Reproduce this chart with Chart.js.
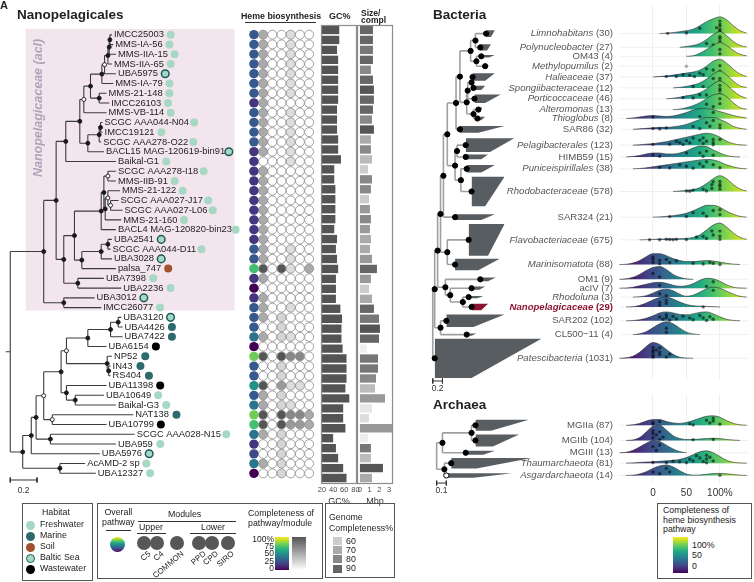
<!DOCTYPE html>
<html>
<head>
<meta charset="utf-8">
<title>Heme biosynthesis in Nanopelagicales</title>
<script src="https://cdn.jsdelivr.net/npm/chart.js@4.4.1/dist/chart.umd.min.js"></script>
<style>
  body { margin:0; width:754px; height:582px; position:relative; overflow:hidden; background:#fff;
         font-family:"Liberation Sans", Arial, Helvetica, sans-serif; color:#222; }
  canvas { position:absolute; }
  .t { position:absolute; white-space:nowrap; line-height:1; }
  .box { position:absolute; border:1px solid #555; box-sizing:border-box; }
  .dot { position:absolute; border-radius:50%; box-sizing:border-box; }
  .ln { position:absolute; height:0; border-top:1px solid #333; }
  .rl { position:absolute; width:0; height:0; }
  .rl span { position:absolute; right:0; top:0; transform-origin:100% 0; transform:rotate(-40deg);
             font-size:8px; white-space:nowrap; line-height:1; }
  .vir { background:linear-gradient(to bottom,#fde725,#bddf26,#7ad151,#44bf70,#22a884,#21918c,#2a788e,#355f8d,#414487,#482475,#440154); }
</style>
</head>
<body>
<canvas id="nanoTree" width="245" height="500" style="left:0;top:0"></canvas>
<canvas id="heme" width="75" height="500" style="left:244px;top:0"></canvas>
<canvas id="gc" width="50" height="507" style="left:314px;top:0"></canvas>
<canvas id="size" width="50" height="507" style="left:350px;top:0"></canvas>
<canvas id="bac" width="334" height="392" style="left:420px;top:0"></canvas>
<canvas id="arc" width="334" height="110" style="left:420px;top:390px"></canvas>

<div class="t" style="left:0;top:0;font-weight:bold;font-size:11px">A</div>
<div class="t" style="left:17px;top:8px;font-weight:bold;font-size:13.5px">Nanopelagicales</div>
<div class="t" style="left:241px;top:12px;font-weight:bold;font-size:8.8px">Heme biosynthesis</div>
<div class="ln" style="left:245px;top:22px;width:71px"></div>
<div class="t" style="left:329px;top:12px;font-weight:bold;font-size:9px">GC%</div>
<div class="t" style="left:361px;top:10px;font-weight:bold;font-size:8.5px;line-height:7px">Size/<br>compl</div>
<div class="t" style="left:433px;top:8px;font-weight:bold;font-size:13.5px">Bacteria</div>
<div class="t" style="left:433px;top:398px;font-weight:bold;font-size:13.5px">Archaea</div>

<!-- habitat legend -->
<div class="box" style="left:22px;top:503px;width:71px;height:78px"></div>
<div class="t" style="left:42px;top:508px;font-size:8.8px">Habitat</div>

<!-- pathway / module legend -->
<div class="box" style="left:97px;top:503px;width:226px;height:76px"></div>
<div class="t" style="left:102px;top:507px;font-size:8.8px;line-height:10px;text-align:center">Overall<br>pathway</div>
<div class="ln" style="left:106px;top:530px;width:25px"></div>
<div class="dot vir" style="left:110px;top:537px;width:15px;height:15px"></div>
<div class="t" style="left:168px;top:510px;font-size:8.8px">Modules</div>
<div class="ln" style="left:138px;top:521px;width:98px"></div>
<div class="t" style="left:139px;top:523px;font-size:8.8px">Upper</div>
<div class="ln" style="left:137px;top:533px;width:29px"></div>
<div class="t" style="left:201px;top:523px;font-size:8.8px">Lower</div>
<div class="ln" style="left:190px;top:533px;width:46px"></div>
<div class="t" style="left:248px;top:508px;font-size:8.8px;line-height:10px">Completeness of<br>pathway/module</div>
<div class="vir" style="position:absolute;left:275px;top:537px;width:14px;height:33px"></div>
<div style="position:absolute;left:292px;top:537px;width:14px;height:33px;background:linear-gradient(to bottom,#555,#fff)"></div>
<div class="t" style="left:250px;top:536px;width:24px;text-align:right;font-size:8.5px;line-height:7.2px">100%<br>75<br>50<br>25<br>0</div>

<!-- genome completeness legend -->
<div class="box" style="left:325px;top:503px;width:70px;height:75px"></div>
<div class="t" style="left:329px;top:512px;font-size:8.8px;line-height:10.5px">Genome<br>Completeness%</div>

<!-- ridge colour legend -->
<div class="box" style="left:657px;top:503px;width:95px;height:76px"></div>
<div class="t" style="left:663px;top:506px;font-size:8.8px;line-height:9.5px">Completeness of<br>heme biosynthesis<br>pathway</div>
<div class="vir" style="position:absolute;left:673px;top:537px;width:15px;height:36px"></div>
<div class="t" style="left:692px;top:541px;font-size:8.8px">100%</div>
<div class="t" style="left:692px;top:551px;font-size:8.8px">50</div>
<div class="t" style="left:692px;top:562px;font-size:8.8px">0</div>

<script>
// ---------------- Nanopelagicales genomes (tree tip order, top to bottom) ----------------
const nanoTips = ['IMCC25003','MMS-IA-56','MMS-IIA-15','MMS-IIA-65','UBA5975','MMS-IA-79','MMS-21-148','IMCC26103',
  'MMS-VB-114','SCGC AAA044-N04','IMCC19121','SCGC AAA278-O22','BACL15 MAG-120619-bin91','Baikal-G1','SCGC AAA278-I18',
  'MMS-IIB-91','MMS-21-122','SCGC AAA027-J17','SCGC AAA027-L06','MMS-21-160','BACL4 MAG-120820-bin23','UBA2541',
  'SCGC AAA044-D11','UBA3028','palsa_747','UBA7398','UBA2236','UBA3012','IMCC26077','UBA3120','UBA4426','UBA7422',
  'UBA6154','NP52','IN43','RS404','UBA11398','UBA10649','Baikal-G3','NAT138','UBA10799','SCGC AAA028-N15','UBA959',
  'UBA5976','AcAMD-2 sp','UBA12327'];
// root-to-tip distance (substitutions/site)
const nanoTipDepth = [0.76,0.77,0.79,0.76,0.79,0.77,0.72,0.74,0.72,0.69, 0.69,0.68,0.70,0.79,0.79,0.79,0.82,0.81,0.84,0.83,
  0.79,0.76,0.75,0.76,0.79,0.70,0.83,0.63,0.68,0.83, 0.84,0.84,0.72,0.76,0.75,0.75,0.72,0.70,0.79,0.92, 0.72,0.93,0.79,0.67,0.56,0.64];
// F freshwater, M marine, S soil, B Baltic Sea, W wastewater
const nanoHabitat = ['F','F','F','F','B','F','F','F','F','F', 'F','F','B','F','F','F','F','F','F','F',
  'F','B','F','B','S','F','F','B','F','B', 'M','M','W','M','M','M','W','F','F','M', 'W','F','F','B','F','F'];
// internal nodes: [id, depth, child, child, support (1 = supported, 0 = weak, null = root)]
const nanoNodes = [
  ['a',0.745,0,1,1],['b',0.74,'a',2,1],['c',0.73,'b',3,1],['d',0.705,'c',4,0],['e',0.685,'d',5,1],['f',0.665,6,7,1],
  ['g',0.60,'e','f',1],['h',0.55,'g',8,0],['i',0.675,9,10,1],['j',0.665,'i',11,1],['k',0.58,'j',12,1],['l',0.52,'h','k',1],
  ['m',0.415,'l',13,1],['n',0.73,14,15,0],['o',0.75,17,18,0],['p',0.73,16,'o',0],['q',0.71,'p',19,1],['r',0.70,'n','q',1],
  ['s',0.68,'r',20,1],['t',0.73,21,22,1],['u',0.68,'t',23,1],['v',0.535,'u',24,1],['w',0.48,'s','v',1],['x',0.505,25,26,1],
  ['y',0.40,'w','x',1],['z',0.343,'m','y',1],['aa',0.40,27,28,1],['ab',0.25,'z','aa',1],
  ['ba',0.807,29,30,1],['bb',0.75,'ba',31,1],['bc',0.58,'bb',32,1],['bd',0.736,34,35,1],['be',0.725,33,'bd',1],
  ['bf',0.42,'bc','be',0],['bg',0.486,37,38,1],['bh',0.42,36,'bg',1],['bi',0.38,'bf','bh',1],['bj',0.314,39,40,0],
  ['bk',0.25,'bi','bj',0],['bl',0.30,41,42,1],['bm',0.193,'bk','bl',1],['bn',0.157,'bm',43,1],['bo',0.371,44,45,1],
  ['bp',0.093,'bn','bo',1],['root',0,'ab','bp',null]];

// heme biosynthesis completeness (%)
const hemeOverall = [28,28,28,28,28,28,28,15,28,28, 28,28,15,15,15,15,15,15,15,15, 15,15,28,28,70,15,0,15,28,28,
  28,38,0,78,28,28,50,28,38,78, 70,38,15,22,38,0];
const moduleNames = ['C5','C4','COMMON','PPD','CPD','SIRO'];
const modC5 = [50,50,50,50,50,50,50,50,50,50, 50,50,50,0,50,50,50,50,50,50, 50,50,50,50,100,50,0,50,50,50,
  0,50,0,100,0,0,100,50,50,100, 100,50,0,0,50,0];
const modC4 = [0,0,0,0,0,0,0,0,0,0, 0,0,0,0,0,0,0,0,0,0, 0,0,0,0,0,0,0,0,0,0, 0,0,0,0,0,0,0,0,0,0, 0,0,0,0,0,0];
const modCommon = [0,0,0,0,0,0,0,0,0,0, 0,0,0,0,0,0,0,0,0,0, 0,0,0,0,100,0,0,0,0,25,
  25,25,0,100,25,25,60,25,25,100, 100,25,25,25,25,25];
const modPPD = [20,20,20,20,20,20,20,0,20,20, 20,20,20,20,0,0,0,0,0,0, 0,0,20,20,20,0,0,0,20,0,
  0,20,0,70,0,0,20,0,20,70, 60,0,0,0,0,0];
const modCPD = [0,0,0,0,0,0,0,0,0,0, 0,0,0,0,0,0,0,0,0,0, 0,0,0,0,0,0,0,0,0,0, 0,0,0,70,0,0,20,0,0,70, 60,0,0,0,0,0];
const modSIRO = [0,0,0,0,0,0,0,0,0,0, 0,0,0,0,0,0,0,0,0,0, 0,0,0,0,50,0,0,0,0,0, 0,0,0,0,0,0,0,0,0,50, 50,0,0,0,0,0];
const gcPercent = [51,51,47,49,49,49,49,49,47,47, 47,49,49,54,42,42,44,44,44,44, 42,47,45,47,49,45,45,45,53,56,
  55,55,57,64,64,64,62,69,58,58, 62,40,45,49,58,64];
const genomeMbp = [1.34,1.34,1.34,1.34,1.13,1.34,1.44,1.44,1.34,1.24, 1.44,1.13,1.13,1.24,0.82,1.24,1.13,0.93,1.03,1.13,
  1.03,1.13,1.03,1.24,1.75,1.13,0.93,1.24,1.44,1.96, 2.06,1.96,0.72,1.86,1.86,1.65,1.55,2.58,1.24,0.93, 3.4,0.82,1.13,1.13,2.37,1.24];
const completeness = [90,90,85,90,80,90,95,90,90,80, 95,70,80,65,60,80,80,60,75,80, 75,70,70,75,90,75,60,70,90,85,
  95,90,50,85,85,80,65,75,52,55, 75,50,85,65,95,70];

// ---------------- Bacteria (collapsed clades) ----------------
const bacNames = ['Limnohabitans','Polynucleobacter','OM43','Methylopumilus','Halieaceae','Spongiibacteraceae','Porticoccaceae',
  'Alteromonas','Thioglobus','SAR86','Pelagibacterales','HIMB59','Puniceispirillales','Rhodobacteraceae','SAR324',
  'Flavobacteriaceae','Marinisomatota','OM1','acIV','Rhodoluna','Nanopelagicaceae','SAR202','CL500\u221211','Patescibacteria'];
const bacCount = [30,27,4,2,37,12,46,13,8,32,123,15,38,578,21,675,88,9,7,3,29,102,4,1031];
const bacItalic = [1,1,0,1,1,1,1,1,1,0,1,0,1,1,0,1,1,0,0,1,1,0,0,1];
const bacLane = [0,1.4,2.3,3.3,4.4,5.5,6.6,7.7,8.6,9.7,11.3,12.5,13.7,16.0,18.6,20.9,23.4,24.9,25.8,26.7,27.7,29.1,30.5,32.9];
const bacBase = [1.10,0.98,1.00,1.08,0.82,0.84,0.86,0.94,0.92,0.56,0.68,0.68,0.70,0.80,0.46,0.74,0.46,0.98,0.80,0.74,0.80,0.28,0.70,0.04];
const bacShort = [1.20,1.12,1.16,1.12,1.08,1.00,1.08,0.98,1.00,0.94,1.18,1.00,1.00,1.08,1.00,1.14,0.94,1.14,0.96,0.92,1.00,0.84,0.80,0.80];
const bacLong = [1.28,1.20,1.28,1.16,1.28,1.08,1.40,1.02,1.08,1.48,1.68,1.14,1.28,1.48,1.28,1.48,1.38,1.30,1.08,1.04,1.14,1.48,0.90,2.24];
const bacNodes = [
  ['LP',0.88,'Limnohabitans','Polynucleobacter',1],['OM',0.90,'OM43','Methylopumilus',1],['Beta',0.78,'LP','OM',1],
  ['G68',0.80,'Halieaceae','Spongiibacteraceae',1],['G64',0.72,'G68','Porticoccaceae',1],['AT',0.84,'Alteromonas','Thioglobus',1],
  ['Gam',0.70,'G64','AT',1],['BG2',0.56,'Beta','Gam',1],['BG',0.48,'BG2','SAR86',1],
  ['A1',0.50,'Pelagibacterales','HIMB59',1],['A2',0.58,'Puniceispirillales','Rhodobacteraceae',1],['Alpha',0.46,'A1','A2',1],
  ['Prot',0.30,'BG','Alpha',1],['W',0.22,'Prot','SAR324',1],['FM',0.30,'Flavobacteriaceae','Marinisomatota',1],['V',0.16,'W','FM',1],
  ['Act3',0.62,'Rhodoluna','Nanopelagicaceae',1],['Act2',0.36,'acIV','Act3',1],['Actino',0.26,'OM1','Act2',1],['U',0.10,'V','Actino',1],
  ['Chl',0.16,'SAR202','CL500\u221211',1],['Q',0.04,'U','Chl',1],['root',0,'Q','Patescibacteria',null]];
// density of pathway completeness, sampled at ridgeX (%)
const ridgeX = [-50,-40,-30,-20,-10,0,10,20,30,40,50,60,70,80,90,100,110,120,130,140];
const bacDensity = [
  [0,0,0,0,0,0,0,0.5,1,2,3,4.5,8,12,15,17,14,8,3,0.5],
  [0,0,0,0,0,0,0,0,0,0,1,2,4,8,13,16,12,6,2,0.5],
  [0,0,0,0,0,0,0,0,0,0,0,0.5,3,7,11,14,11,6,2,0.5],
  [0,0,0,0,0,0,0,0,0,0,0,0,0,0,0,0,0,0,0,0],
  [0,0,0,0,0,0,0.5,1,2,3,4,5,7,11,16,18,14,8,3,0.5],
  [0,0,0,0,0,0,0,0,0,0.5,1.5,3,5,9,14,17,13,7,2,0.5],
  [0,0,0,0,0,0,0,0,0.5,1.5,3,4,6,10,15,18,14,8,3,0.5],
  [0,0,0,0,0,0,0,0,0,0.5,2,4,7,11,15,16,13,7,2,0.5],
  [0,0,0.5,1.5,2.5,3,2.5,2,2.5,4,6,8.5,10,10,9,7,5,3,1.5,0.5],
  [0,0,0,0.5,1,1.5,2,2,2.5,3.5,5,7.5,10,12,12,10,7,3,1,0],
  [0,0,0,0.3,1,1.5,2.5,3.5,5,6.5,8,9.5,11,12,11,8,4,1.5,0.3,0],
  [0,0,0.5,1.5,3,4,4,3,3,4,6,9,11,10.5,7,4,1.5,0.3,0,0],
  [0,0,0,0.3,1,2,3,4,5,6,7,8,9,9.5,9,7,4,2,0.5,0],
  [0,0,0,0,0,0,0,0,0,0.5,1,2,4,8,13,16,13,7,2.5,0.5],
  [0,0,0,0,0,0,0.3,0.8,1.5,2.5,4,6.5,9.5,12,12,10,6,3,0.8,0],
  [0,0,0,0,0.2,0.5,0.8,1,1,1.2,1.5,2.5,5,10,15,17,13,7,2.5,0.5],
  [0,0.3,1.5,4,8,11,11,9,6,4,3,3,3.5,4,3.5,2.5,1.2,0.4,0,0],
  [0,0.5,2,5,9,12,13,10,5,2,0.5,0,0,0,0,0,0,0,0,0],
  [0,0.2,1,2.5,4,5.5,6,5,3,2,2.5,4.5,8,10,9.5,7,3.5,1,0.2,0],
  [0,0,0,0.3,1.5,4,7,8,6.5,3,0.8,2,5,8.5,10,9,6,3,0.8,0],
  [0,0,0.3,1.5,4,7,9.5,10,8,5,2.5,1.2,0.8,0.6,0.3,0,0,0,0,0],
  [0,0,0.2,1,2.5,5,8,9,8,6.5,6,7,8.5,9,7,4,1.5,0.4,0,0],
  [0,0,0,0.8,3,7,11,13,11,6.5,2.5,0.6,0,0,0,0,0,0,0,0],
  [0,0.5,2,6,12,16,14,9,4,1,0.2,0,0,0,0,0,0,0,0,0]];
const bacPoints = [
  [22,50,70,95,100,100,100,100,100,100],[80,90,100,100,100,100],[100,100],[50],
  [20,35,45,55,62,70,75,80,90,100,100,100,100],[60,75,90,100,100,100],[45,60,70,80,90,100,100,100,100],
  [80,90,100,100],[0,70,90],[0,10,20,60,70,80,85,90,100,100],
  [0,25,35,40,45,50,55,60,70,75,75,80,90,90,90,100],[0,10,50,70,75,80,90],[10,25,40,50,60,70,75,80,90,100],
  [50,55,60,75,80,88,88,90,100,100,100,100],[25,50,60,75,80,90,100,100],
  [-5,10,20,25,30,35,50,65,75,80,88,90,100,100,100],[0,0,0,10,10,20,25,35,60,75,85,90,100],
  [0,10],[10,80,90],[10,20,90],[10,10,20,20,75],[10,15,20,20,25,30,35,45,55,60,70,75,80,85,90],[20,20],
  [0,0,0,0,0,5,10,10,10,20,25]];

// ---------------- Archaea ----------------
const arcNames = ['MGIIa','MGIIb','MGIII','Thaumarchaeota','Asgardarchaeota'];
const arcCount = [87,104,13,81,14];
const arcItalic = [0,0,0,1,1];
const arcLane = [0,1.6,2.9,4.0,5.3];
const arcBase = [0.40,0.40,0.30,0.15,0.10];
const arcShort = [0.56,0.58,0.48,0.41,0.38];
const arcLong = [0.95,0.85,0.60,0.98,0.78];
const arcNodes = [['MGII',0.36,'MGIIa','MGIIb',1],['EA',0.06,'MGII','MGIII',1],
  ['TA',0.08,'Thaumarchaeota','Asgardarchaeota',1],['root',0,'EA','TA',null]];
const arcDensity = [
  [0,0,0.5,2,4.5,6,6,4,2.5,2,3,5,7.5,9.5,10,8.5,5,2,0.5,0],
  [0,0,0.5,3,9,15,16,11,5,2,1,1,1.5,2,2.2,2,1,0.4,0,0],
  [0,0.5,2.5,6,10,13,12,8,4,1.2,0,0,0,0,0,0,0,0,0,0],
  [0,0,0.3,0.8,1.2,1.5,2,2.5,3,4,6,9,12,13,11,7,3,1,0.2,0],
  [0,0,0.3,1.5,4,7.5,10,11,9,5,1.5,0.3,0.5,1.2,2,2.2,1.8,1,0.3,0]];
const arcPoints = [[0,0,10,55,60,80,85,90,90,100],[0,0,0,5,10,10,15,60,90],[0,5,10],
  [0,20,30,40,50,55,60,65,70,75,80,80,80,85,90],[0,10,20,25,100]];

// ---------------- helpers ----------------
const FONT = '"Liberation Sans", Arial, Helvetica, sans-serif';
Chart.defaults.font.family = FONT;
Chart.defaults.color = '#333';
Chart.defaults.animation = false;
Chart.defaults.responsive = false;
Chart.defaults.events = [];
Chart.defaults.plugins.legend.display = false;
Chart.defaults.plugins.tooltip.enabled = false;

const VIRIDIS = ['#440154','#482475','#414487','#355f8d','#2a788e','#21918c','#22a884','#44bf70','#7ad151','#bddf26','#fde725'];
const hex2rgb = h => [1,3,5].map(i => parseInt(h.slice(i, i + 2), 16));
function viridis(t) {
  t = Math.max(0, Math.min(1, t));
  const p = t * 10, i = Math.min(9, Math.floor(p)), f = p - i;
  const a = hex2rgb(VIRIDIS[i]), b = hex2rgb(VIRIDIS[i + 1]);
  return 'rgb(' + a.map((v, k) => Math.round(v + (b[k] - v) * f)).join(',') + ')';
}
const grey = g => { g = Math.round(g); return `rgb(${g},${g},${g})`; };
const moduleGrey = v => grey(255 - v / 100 * 170);
const complGrey = c => grey(238 - (c - 50) * 3.4);
const HABITAT = {
  F: {name:'Freshwater', fill:'#a7d8c3', line:'#a7d8c3'},
  M: {name:'Marine', fill:'#2d6a6c', line:'#2d6a6c'},
  S: {name:'Soil', fill:'#a0522d', line:'#a0522d'},
  B: {name:'Baltic Sea', fill:'#a7d8c3', line:'#1e5a5c'},
  W: {name:'Wastewater', fill:'#000', line:'#000'}
};

// rows of the left panel: first tip at 30px, 9.96px apart
const ROW_TOP = 30, ROW_H = 9.96;
const rowAxis = h => { const min = -ROW_TOP / ROW_H; return {type:'linear', display:false, reverse:true, min, max:min + h / ROW_H}; };

// rectangular tree layout: parent y = mean of children
function layoutTree(nodes, pos) {
  const edges = [], dots = [];
  nodes.forEach(([id, d, a, b, sup]) => {
    pos[id] = {x:d, y:(pos[a].y + pos[b].y) / 2};
    edges.push({x:d, y:pos[a].y}, {x:d, y:pos[b].y}, {x:null, y:null});
    [a, b].forEach(c => edges.push({x:d, y:pos[c].y}, {x:pos[c].x, y:pos[c].y}, {x:null, y:null}));
    if (sup !== null) dots.push({x:d, y:pos[id].y, hollow:sup === 0});
  });
  return {edges, dots};
}

// ---------------- left tree ----------------
const NANO_PXU = 140, NANO_X0 = 5, TIP_FONT = '9.4px ' + FONT, DOT_GAP = 9.5;
const nanoPos = {};
nanoTips.forEach((n, i) => nanoPos[i] = {x:nanoTipDepth[i], y:i});
const nanoTree = layoutTree(nanoNodes, nanoPos);
nanoTree.edges.push({x:-NANO_X0 / NANO_PXU, y:nanoPos.root.y}, {x:0, y:nanoPos.root.y});
const SCALE_Y = 45.7;
const nanoScale = [{x:0,y:SCALE_Y-0.25},{x:0,y:SCALE_Y+0.25},{x:null,y:null},{x:0,y:SCALE_Y},{x:0.2,y:SCALE_Y},
  {x:null,y:null},{x:0.2,y:SCALE_Y-0.25},{x:0.2,y:SCALE_Y+0.25}];

const nanoDecor = {
  id:'nanoDecor',
  beforeUpdate(chart) {
    // habitat dot sits just after each tip label, measured with the chart's own context
    const ctx = chart.ctx;
    ctx.save(); ctx.font = TIP_FONT;
    chart.data.datasets[3].data = nanoTips.map((n, i) =>
      ({x:nanoTipDepth[i] + (2 + ctx.measureText(n).width + DOT_GAP) / NANO_PXU, y:i}));
    ctx.restore();
  },
  beforeDatasetsDraw(chart) {
    const {ctx, chartArea, scales:{x, y}} = chart;
    ctx.save();
    ctx.fillStyle = '#f3e5ed';
    const x0 = x.getPixelForValue(0.115), y0 = y.getPixelForValue(-0.6), y1 = y.getPixelForValue(28.3);
    ctx.fillRect(x0, y0, chartArea.right - 5 - x0, y1 - y0);
    ctx.translate(x.getPixelForValue(0.214), y.getPixelForValue(7.5));
    ctx.rotate(-Math.PI / 2);
    ctx.font = 'italic bold 12.5px ' + FONT;
    ctx.fillStyle = '#aca5b8';
    ctx.textAlign = 'center'; ctx.textBaseline = 'middle';
    ctx.fillText('Nanopelagicaceae (acI)', 0, 0);
    ctx.restore();
  },
  afterDatasetsDraw(chart) {
    const {ctx, scales:{x, y}} = chart;
    ctx.save();
    ctx.font = TIP_FONT; ctx.fillStyle = '#1e1e1e'; ctx.textBaseline = 'middle'; ctx.textAlign = 'left';
    nanoTips.forEach((n, i) => ctx.fillText(n, x.getPixelForValue(nanoTipDepth[i]) + 2, y.getPixelForValue(i)));
    ctx.font = '8.5px ' + FONT; ctx.fillStyle = '#333'; ctx.textAlign = 'center';
    ctx.fillText('0.2', x.getPixelForValue(0.1), y.getPixelForValue(SCALE_Y + 1.05));
    ctx.restore();
  }
};

new Chart(document.getElementById('nanoTree'), {
  type:'line',
  data:{datasets:[
    {data:nanoTree.edges, borderColor:'#3c3c3c', borderWidth:1.1, pointRadius:0, spanGaps:false, order:5},
    {data:nanoScale, borderColor:'#333', borderWidth:1, pointRadius:0, spanGaps:false, order:5},
    {type:'scatter', data:nanoTree.dots, pointRadius:2, pointBackgroundColor:nanoTree.dots.map(d => d.hollow ? '#fff' : '#1a1a1a'),
     pointBorderColor:'#1a1a1a', pointBorderWidth:0.9, order:1},
    {type:'scatter', data:[], pointRadius:nanoHabitat.map(h => h === 'B' ? 3.8 : 4), pointBackgroundColor:nanoHabitat.map(h => HABITAT[h].fill),
     pointBorderColor:nanoHabitat.map(h => HABITAT[h].line), pointBorderWidth:nanoHabitat.map(h => h === 'B' ? 1.5 : 0), order:1}
  ]},
  options:{scales:{x:{type:'linear', display:false, min:-NANO_X0 / NANO_PXU, max:(245 - NANO_X0) / NANO_PXU}, y:rowAxis(500)}},
  plugins:[nanoDecor]
});

// ---------------- heme biosynthesis circles ----------------
const moduleValues = [modC5, modC4, modCommon, modPPD, modCPD, modSIRO];
new Chart(document.getElementById('heme'), {
  type:'scatter',
  data:{labels:['overall', ...moduleNames], datasets:[
    {data:hemeOverall.map((v, i) => ({x:'overall', y:i})), pointRadius:4.7,
     pointBackgroundColor:hemeOverall.map(v => viridis(v / 100)), pointBorderWidth:0},
    {data:moduleValues.flatMap((vals, m) => vals.map((v, i) => ({x:moduleNames[m], y:i}))), pointRadius:4.5,
     pointBackgroundColor:moduleValues.flatMap(vals => vals.map(moduleGrey)), pointBorderColor:'#8a8a8a', pointBorderWidth:0.8}
  ]},
  options:{scales:{x:{type:'category', display:false, offset:true}, y:rowAxis(500)}}
});

// ---------------- GC% and genome size bars ----------------
const panelBox = {id:'panelBox', afterDatasetsDraw(chart) {
  const {ctx, chartArea:a} = chart;
  ctx.save(); ctx.strokeStyle = '#8c8c8c'; ctx.lineWidth = 1.2;
  ctx.strokeRect(a.left - 0.5, a.top + 0.5, a.right - a.left + 1, a.bottom - a.top);
  ctx.restore();
}};
function barPanel(id, values, colors, min, max, ticks, title) {
  return new Chart(document.getElementById(id), {
    type:'bar',
    data:{labels:nanoTips, datasets:[{data:values, backgroundColor:colors, barPercentage:0.84, categoryPercentage:1, borderWidth:0}]},
    options:{
      indexAxis:'y',
      layout:{padding:{top:25, left:8, right:8, bottom:0}},
      scales:{
        y:{display:false},
        x:{min, max, grid:{display:false, drawTicks:false}, border:{display:false},
           afterBuildTicks:s => { s.ticks = ticks.map(v => ({value:v})); },
           ticks:{font:{size:7.5}, color:'#4a4a4a', padding:2, maxRotation:0, autoSkip:false},
           title:{display:true, text:title, font:{size:9}, color:'#333', padding:{top:0, bottom:0}},
           afterFit:s => { s.height = 24; }}
      }
    },
    plugins:[panelBox]
  });
}
barPanel('gc', gcPercent, '#545454', 20, 81, [20,40,60,80], 'GC%');
barPanel('size', genomeMbp, completeness.map(complGrey), -0.2, 3.3, [0,1,2,3], 'Mbp');

// ---------------- clade panels with ridgelines ----------------
const LANE_PX = 10, CLADE_H = 0.062, RIDGE_ZERO_PX = 235, RIDGE_PXU = 0.69;
function ridgeGradient(chart) {
  const xr = chart.scales.xr;
  if (!xr || !chart.chartArea) return '#21918c';
  const g = chart.ctx.createLinearGradient(xr.getPixelForValue(-45), 0, xr.getPixelForValue(145), 0);
  VIRIDIS.forEach((c, i) => g.addColorStop(i / 10, c));
  return g;
}
function densAt(d, v) {
  const k = Math.max(0, Math.min(ridgeX.length - 2, Math.floor((v - ridgeX[0]) / 10)));
  const f = (v - ridgeX[k]) / 10;
  return d[k] + (d[k + 1] - d[k]) * f;
}
function cladePanel(id, p) {
  const pos = {};
  p.names.forEach((n, i) => pos[n] = {x:p.base[i], y:p.lanes[i]});
  const tree = layoutTree(p.nodes, pos);
  const sets = [];
  const grid = [];
  p.lanes.forEach(l => grid.push({x:-50, y:l}, {x:150, y:l}, {x:null, y:null}));
  sets.push({xAxisID:'xr', data:grid, borderColor:'#ececec', borderWidth:0.8, pointRadius:0, spanGaps:false, order:5000});
  sets.push({xAxisID:'xt', data:tree.edges, borderColor:'#a0a0a0', borderWidth:1.6, pointRadius:0, spanGaps:false, order:3});
  p.names.forEach((n, i) => {
    const h = CLADE_H * Math.sqrt(p.counts[i]), l = p.lanes[i];
    sets.push({xAxisID:'xt', data:[{x:p.base[i], y:l + h}, {x:p.short[i], y:l + h}, {x:p.long[i], y:l - h}],
      borderColor:'rgba(0,0,0,0)', borderWidth:0, pointRadius:0, fill:{value:l - h},
      backgroundColor:n === p.highlight ? '#8d1232' : '#585d62', order:4});
  });
  const dots = tree.dots.concat(p.names.map((n, i) => ({x:p.base[i], y:p.lanes[i], hollow:p.hollow.includes(n)})));
  sets.push({type:'scatter', xAxisID:'xt', data:dots, pointRadius:2.6, pointBackgroundColor:dots.map(d => d.hollow ? '#fff' : '#000'),
    pointBorderColor:'#000', pointBorderWidth:1, order:2});
  p.names.forEach((n, i) => {
    const d = p.dens[i], l = p.lanes[i];
    let i0 = d.findIndex(v => v > 0);
    if (i0 >= 0) {
      let i1 = d.length - 1 - [...d].reverse().findIndex(v => v > 0);
      i0 = Math.max(0, i0 - 1); i1 = Math.min(d.length - 1, i1 + 1);
      const pts = [];
      for (let k = i0; k <= i1; k++) pts.push({x:ridgeX[k], y:l - d[k] / LANE_PX});
      sets.push({xAxisID:'xr', data:pts, borderColor:'#2a2a2a', borderWidth:0.6, pointRadius:0, cubicInterpolationMode:'monotone',
        fill:{value:l}, backgroundColor:c => ridgeGradient(c.chart), order:1000 - 2 * i});
    }
    const pp = p.points[i].map((v, j) => ({x:v, y:l - (((j + 1) * 0.618) % 1) * 0.8 * densAt(d, v) / LANE_PX}));
    sets.push({type:'scatter', xAxisID:'xr', data:pp, pointRadius:1.7, pointBorderWidth:0,
      pointBackgroundColor:i0 >= 0 ? 'rgba(0,0,0,0.55)' : 'rgba(0,0,0,0.3)', order:999 - 2 * i});
  });
  const sb = p.scaleBar;
  sets.push({xAxisID:'xt', data:[{x:0,y:sb.lane-0.25},{x:0,y:sb.lane+0.25},{x:null,y:null},{x:0,y:sb.lane},{x:sb.len,y:sb.lane},
    {x:null,y:null},{x:sb.len,y:sb.lane-0.25},{x:sb.len,y:sb.lane+0.25}], borderColor:'#333', borderWidth:1, pointRadius:0,
    spanGaps:false, clip:false, order:1});

  const labels = {id:'cladeLabels', afterDatasetsDraw(chart) {
    const {ctx, scales:{xr, xt, y}} = chart;
    const right = xr.getPixelForValue(0) - 40;
    ctx.save(); ctx.textBaseline = 'middle'; ctx.textAlign = 'left';
    p.names.forEach((n, i) => {
      const hl = n === p.highlight;
      const nameFont = (p.italic[i] ? 'italic ' : '') + (hl ? 'bold ' : '') + '9.6px ' + FONT;
      const cntFont = (hl ? 'bold ' : '') + '9.6px ' + FONT;
      const cnt = ' (' + p.counts[i] + ')';
      ctx.font = cntFont; const wc = ctx.measureText(cnt).width;
      ctx.font = nameFont; const wn = ctx.measureText(n).width;
      const yy = y.getPixelForValue(p.lanes[i]);
      ctx.fillStyle = hl ? '#8b1430' : '#555';
      ctx.fillText(n, right - wc - wn, yy);
      ctx.font = cntFont; ctx.fillText(cnt, right - wc, yy);
    });
    ctx.font = '8.5px ' + FONT; ctx.fillStyle = '#333'; ctx.textAlign = 'center';
    ctx.fillText(String(sb.len), xt.getPixelForValue(sb.len / 2), y.getPixelForValue(sb.lane + 0.8));
    ctx.restore();
  }};

  const cv = document.getElementById(id);
  const areaH = cv.height - p.axisH;
  const rMin = -RIDGE_ZERO_PX / RIDGE_PXU;
  new Chart(cv, {
    type:'line',
    data:{datasets:sets},
    options:{
      scales:{
        xt:{axis:'x', type:'linear', display:false, min:-p.treeX0 / p.treePxu, max:(cv.width - p.treeX0) / p.treePxu},
        xr:{axis:'x', type:'linear', position:'bottom', min:rMin, max:rMin + cv.width / RIDGE_PXU,
            afterBuildTicks:s => { s.ticks = [0,50,100].map(v => ({value:v})); },
            ticks:{callback:v => v === 100 ? '100%' : String(v), font:{size:10}, color:'#333', padding:p.tickPad, maxRotation:0, autoSkip:false},
            grid:{color:'#ebebeb', lineWidth:0.8, drawTicks:false}, border:{display:false},
            afterFit:s => { s.height = p.axisH; }},
        y:{type:'linear', display:false, reverse:true, min:p.laneTop, max:p.laneTop + areaH / LANE_PX}
      }
    },
    plugins:[labels]
  });
}

cladePanel('bac', {names:bacNames, counts:bacCount, italic:bacItalic, lanes:bacLane, base:bacBase, short:bacShort, long:bacLong,
  nodes:bacNodes, dens:bacDensity, points:bacPoints, highlight:'Nanopelagicaceae', hollow:[],
  treeX0:8, treePxu:50, laneTop:-2.9, axisH:12, tickPad:-14, scaleBar:{len:0.2, lane:35.2}});
cladePanel('arc', {names:arcNames, counts:arcCount, italic:arcItalic, lanes:arcLane, base:arcBase, short:arcShort, long:arcLong,
  nodes:arcNodes, dens:arcDensity, points:arcPoints, highlight:null, hollow:['Asgardarchaeota'],
  treeX0:12, treePxu:100, laneTop:-3.2, axisH:16, tickPad:3, scaleBar:{len:0.1, lane:6.1}});

// ---------------- legends ----------------
['F','M','S','B','W'].forEach((k, j) => {
  const h = HABITAT[k], cy = 525 + 11 * j;
  const dot = document.createElement('div');
  dot.className = 'dot';
  dot.style.cssText = `left:26px;top:${cy - 4.5}px;width:9px;height:9px;background:${h.fill};border:${k === 'B' ? 1.6 : 0}px solid ${h.line}`;
  const tx = document.createElement('div');
  tx.className = 't';
  tx.style.cssText = `left:40px;top:${cy - 5}px;font-size:8.8px`;
  tx.textContent = h.name;
  document.body.append(dot, tx);
});
[144,157,177,199,212,228].forEach((cx, j) => {
  const c = document.createElement('div');
  c.className = 'dot';
  c.style.cssText = `left:${cx - 7}px;top:536px;width:14px;height:14px;background:#575757`;
  const r = document.createElement('div');
  r.className = 'rl';
  r.style.cssText = `left:${cx + 3}px;top:550px`;
  r.innerHTML = '<span>' + moduleNames[j] + '</span>';
  document.body.append(c, r);
});
[60,70,80,90].forEach((c, j) => {
  const cy = 541 + 9.2 * j;
  const sq = document.createElement('div');
  sq.style.cssText = `position:absolute;left:333px;top:${cy - 4}px;width:9px;height:8px;background:${complGrey(c)}`;
  const tx = document.createElement('div');
  tx.className = 't';
  tx.style.cssText = `left:346px;top:${cy - 4.5}px;font-size:8.8px`;
  tx.textContent = c;
  document.body.append(sq, tx);
});
</script>
</body>
</html>
